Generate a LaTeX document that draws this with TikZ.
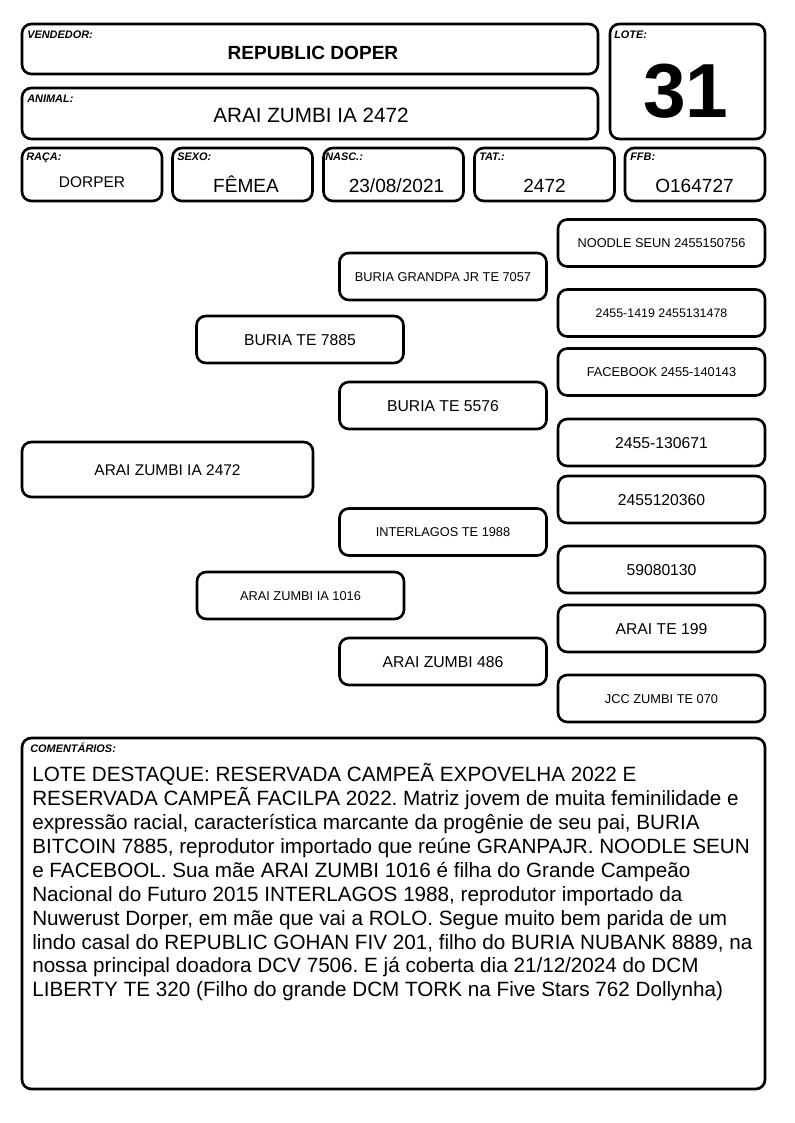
\documentclass[tikz,border=0pt]{standalone}
\usepackage{fontspec}
\setmainfont{Liberation Sans}
\frenchspacing
\begin{document}
\begin{tikzpicture}[x=0.75pt,y=-0.75pt,
  box/.style={draw=black, line width=2pt, rounded corners=7pt, fill=white, inner sep=0pt},
  lbl/.style={anchor=base west, inner sep=0pt, font=\fontsize{8.2}{9}\selectfont\bfseries\itshape},
  val/.style={anchor=base, inner sep=0pt},
  rowbox/.style={box, minimum width=105pt, minimum height=39.75pt},
  pedbox/.style={box, minimum width=155.25pt, minimum height=35.25pt, text depth=0pt},
  pedsmall/.style={pedbox, font=\fontsize{9.6}{11}\selectfont, text height=6.9pt},
  pedlarge/.style={pedbox, font=\fontsize{11.8}{13}\selectfont, text height=8.45pt},
  comline/.style={anchor=base west, inner sep=0pt, font=\fontsize{15.5}{18}\selectfont}
]
\useasboundingbox (0,0) rectangle (794,1123);

% ---------- header ----------
\node[box, minimum width=432pt, minimum height=37.5pt] (vend) at (310,49) {};
\node[box, minimum width=432pt, minimum height=38.25pt] (anim) at (310,113.5) {};
\node[box, minimum width=116.25pt, minimum height=86.25pt] (lote) at (687.5,81.5) {};
\node[rowbox] (raca) at (92,174.5) {};
\node[rowbox] (sexo) at (242.5,174.5) {};
\node[rowbox] (nasc) at (393.5,174.5) {};
\node[rowbox] (tat) at (544.5,174.5) {};
\node[rowbox] (ffb) at (695,174.5) {};

\node[lbl] (tvend) at (27,39) {VENDEDOR:};
\node[val, font=\fontsize{14.3}{16}\selectfont\bfseries] (vvend) at (313,60) {REPUBLIC DOPER};
\node[lbl] (tlote) at (614,39) {LOTE:};
\node[val, font=\fontsize{57.5}{60}\selectfont\bfseries] (vlote) at (686,118) {31};
\node[lbl] (tanim) at (27,103) {ANIMAL:};
\node[val, font=\fontsize{15.5}{18}\selectfont] (vanim) at (311,123) {ARAI ZUMBI IA 2472};

\node[lbl] (traca) at (26,161) {RAÇA:};
\node[lbl] (tsexo) at (177,161) {SEXO:};
\node[lbl] (tnasc) at (325,161) {NASC.:};
\node[lbl] (ttat) at (479,161) {TAT.:};
\node[lbl] (tffb) at (630,161) {FFB:};
\node[val, font=\fontsize{11.6}{13}\selectfont] (vraca) at (92,188) {DORPER};
\node[val, font=\fontsize{14.3}{16}\selectfont] (vsexo) at (246,193) {FÊMEA};
\node[val, font=\fontsize{14.3}{16}\selectfont] (vnasc) at (396.5,193) {23/08/2021};
\node[val, font=\fontsize{14.3}{16}\selectfont] (vtat) at (544.5,193) {2472};
\node[val, font=\fontsize{14.3}{16}\selectfont] (vffb) at (694.5,193) {O164727};

% ---------- pedigree ----------
\node[box, minimum width=218.25pt, minimum height=41.25pt, font=\fontsize{11.6}{13}\selectfont, text height=8.3pt, text depth=0pt] (p0) at (167.5,469.5) {ARAI ZUMBI IA 2472};

\node[pedlarge] (s) at (300,339.5) {BURIA TE 7885};
\node[pedsmall] (d) at (300.5,595.5) {ARAI ZUMBI IA 1016};

\node[pedsmall] (ss) at (443,276.5) {BURIA GRANDPA JR TE 7057};
\node[pedlarge] (sd) at (443,405.5) {BURIA TE 5576};
\node[pedsmall] (ds) at (443,532) {INTERLAGOS TE 1988};
\node[pedlarge] (dd) at (443,661.5) {ARAI ZUMBI 486};

\node[pedsmall] (sss) at (661.5,243) {NOODLE SEUN 2455150756};
\node[pedbox, font=\fontsize{9.3}{11}\selectfont, text height=6.7pt] (ssd) at (661.5,313) {2455-1419 2455131478};
\node[pedsmall] (sds) at (661.5,372) {FACEBOOK 2455-140143};
\node[pedlarge] (sdd) at (661.5,442.5) {2455-130671};
\node[pedlarge] (dss) at (661.5,499.5) {2455120360};
\node[pedlarge] (dsd) at (661.5,569.5) {59080130};
\node[pedlarge] (dds) at (661.5,628.5) {ARAI TE 199};
\node[pedsmall] (ddd) at (661.5,698.5) {JCC ZUMBI TE 070};

% ---------- comments ----------
\node[box, minimum width=557.25pt, minimum height=263.25pt] (com) at (393.5,913.5) {};
\node[lbl] (tcom) at (30,752.5) {COMENTÁRIOS:};
\node[comline] (c1) at (32,781.7) {LOTE DESTAQUE: RESERVADA CAMPEÃ EXPOVELHA 2022 E};
\node[comline] (c2) at (32,805.6) {RESERVADA CAMPEÃ FACILPA 2022. Matriz jovem de muita feminilidade e};
\node[comline] (c3) at (32,829.5) {expressão racial, característica marcante da progênie de seu pai, BURIA};
\node[comline] (c4) at (32,853.4) {BITCOIN 7885, reprodutor importado que reúne GRANPAJR. NOODLE SEUN};
\node[comline] (c5) at (32,877.3) {e FACEBOOL. Sua mãe ARAI ZUMBI 1016 é filha do Grande Campeão};
\node[comline] (c6) at (32,901.2) {Nacional do Futuro 2015 INTERLAGOS 1988, reprodutor importado da};
\node[comline] (c7) at (32,925.1) {Nuwerust Dorper, em mãe que vai a ROLO. Segue muito bem parida de um};
\node[comline] (c8) at (32,949.0) {lindo casal do REPUBLIC GOHAN FIV 201, filho do BURIA NUBANK 8889, na};
\node[comline] (c9) at (32,972.9) {nossa principal doadora DCV 7506. E já coberta dia 21/12/2024 do DCM};
\node[comline] (c10) at (32,996.8) {LIBERTY TE 320 (Filho do grande DCM TORK na Five Stars 762 Dollynha)};
\end{tikzpicture}
\end{document}
